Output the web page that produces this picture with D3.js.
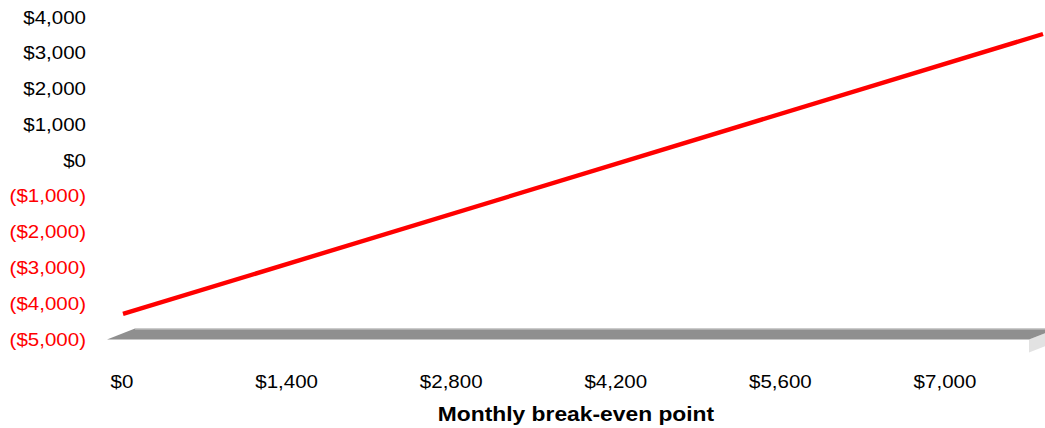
<!DOCTYPE html>
<html><head><meta charset="utf-8">
<script src="https://cdn.jsdelivr.net/npm/d3@7"></script>
<style>html,body{margin:0;padding:0;background:#fff;overflow:hidden}</style>
</head><body>
<svg id="c" width="1045" height="428"></svg>
<script>
// Data
const revenue = [0, 7825];          // monthly sales ($)
const profit  = [-4440, 3385];      // profit / loss ($)
const xTicks  = [0, 1400, 2800, 4200, 5600, 7000];
const yTicks  = [4000, 3000, 2000, 1000, 0, -1000, -2000, -3000, -4000, -5000];
const xTitle  = "Monthly break-even point";

const svg = d3.select("#c");
// depth (3D) offsets
const DX = 28, DY = -11;
const x = d3.scaleLinear().domain([0, 7825]).range([123, 1043]);      // mid-depth
const y = d3.scaleLinear().domain([-5000, 4000]).range([339.5, 17.5]); // front plane

const fmt = v => v < 0 ? "($" + d3.format(",")(-v) + ")" : "$" + d3.format(",")(v);

// floor (3D slab)
const fl = x(0) - DX/2 - 2, fr = x(7825) - DX/2, fy = y(-5000);
const thick = 13;
svg.append("polygon")
  .attr("points", [[fr, fy], [fr+DX, fy+DY], [fr+DX, fy+DY+thick], [fr, fy+thick]].map(p=>p.join(",")).join(" "))
  .attr("fill", "#e2e2e2");
svg.append("polygon")
  .attr("points", [[fl, fy], [fl+DX, fy+DY], [fr+DX, fy+DY], [fr, fy]].map(p=>p.join(",")).join(" "))
  .attr("fill", "#8f8f8f");
svg.append("line")
  .attr("x1", fl+DX).attr("y1", fy+DY+0.5).attr("x2", fr+DX).attr("y2", fy+DY+0.5)
  .attr("stroke", "#cfcfcf").attr("stroke-width", 1);

// y-axis labels
const yg = svg.append("g");
yTicks.forEach(v => {
  yg.append("text")
    .attr("transform", `translate(86,${y(v)}) scale(1.14,1)`)
    .attr("text-anchor", "end").attr("dominant-baseline", "central")
    .attr("font-family", "'Liberation Sans', Arial, sans-serif").attr("font-size", 18)
    .attr("fill", v < 0 ? "#ff0000" : "#000")
    .text(fmt(v));
});

// x-axis labels
const xg = svg.append("g");
xTicks.forEach(v => {
  xg.append("text")
    .attr("transform", `translate(${x(v)-1},382) scale(1.14,1)`)
    .attr("text-anchor", "middle").attr("dominant-baseline", "central")
    .attr("font-family", "'Liberation Sans', Arial, sans-serif").attr("font-size", 18)
    .attr("fill", "#000")
    .text(fmt(v));
});

// x title
svg.append("text")
  .attr("transform", `translate(576,414) scale(1.17,1)`)
  .attr("text-anchor", "middle").attr("dominant-baseline", "central")
  .attr("font-family", "'Liberation Sans', Arial, sans-serif").attr("font-size", 19.5)
  .attr("font-weight", "bold").attr("fill", "#000")
  .text(xTitle);

// profit line (drawn at mid-depth)
const pts = revenue.map((r, i) => [r, profit[i]]);
svg.append("path")
  .datum(pts)
  .attr("d", d3.line().x(d => x(d[0])).y(d => y(d[1]) + DY/2))
  .attr("fill", "none").attr("stroke", "#ff0000").attr("stroke-width", 4.4);
</script>
</body></html>
